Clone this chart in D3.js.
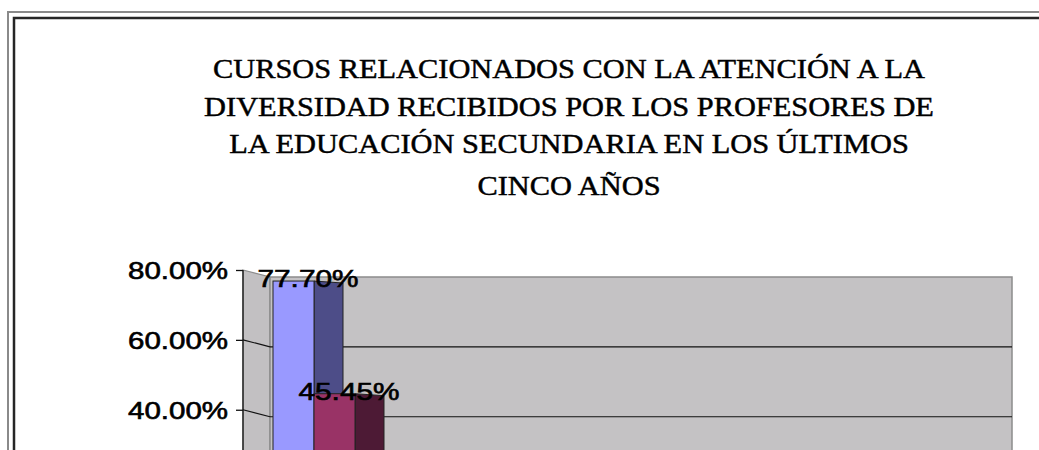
<!DOCTYPE html>
<html>
<head>
<meta charset="utf-8">
<script src="https://cdn.jsdelivr.net/npm/d3@7"></script>
<style>
    body { margin: 0; background: #fff; }
    svg { display: block; }
</style>
</head>
<body>
<div id="chart"></div>
<script>
/* 3D style column chart: cursos de atención a la diversidad */

// data
const titleLines = [
    "CURSOS RELACIONADOS CON LA ATENCIÓN A LA",
    "DIVERSIDAD RECIBIDOS POR LOS PROFESORES DE",
    "LA EDUCACIÓN SECUNDARIA EN LOS ÚLTIMOS",
    "CINCO AÑOS"
];
const series = ["Serie 1", "Serie 2"];
const values = [0.777, 0.4545];
const tickValues = [0.8, 0.6, 0.4]; // only these fall inside the picture

const colors = {
    front: ["#9999ff", "#993366"],
    side: ["#4d4d88", "#4d1a35"]
};

// page layout
const width = 1039,
    height = 450,
    axisX = 243,       // front y axis
    wallRight = 1012,  // right edge of back wall
    depth = { dx: 27, dy: 7 },     // depth offset of the back wall
    barDepth = { dx: 29, dy: 2 };  // depth of each column

let svg = d3.select("#chart")
    .append("svg")
    .attr("width", width)
    .attr("height", height)
    .attr("viewBox", [0, 0, width, height]);

// double frame round the chart, runs off the picture right and bottom
svg.append("path")
    .attr("d", `M8,${height + 10}V12H${width + 10}`)
    .attr("fill", "none")
    .attr("stroke", "#8a8a8a")
    .attr("stroke-width", 2);
svg.append("path")
    .attr("d", `M14,${height + 10}V18H${width + 10}`)
    .attr("fill", "none")
    .attr("stroke", "#262626")
    .attr("stroke-width", 2.5);

// title, stretched a bit as in the original
let title = svg.append("g")
    .attr("font-family", "'Liberation Serif', 'Times New Roman', serif")
    .attr("font-size", 27)
    .attr("text-anchor", "middle")
    .attr("fill", "#000")
    .attr("stroke", "#000")
    .attr("stroke-width", 0.45);

let tlines = title.selectAll("text")
    .data(titleLines)
    .join("text")
    .attr("x", 569)
    .attr("y", (d, i) => i < 3 ? 78 + i * 37.5 : 195)
    .text(d => d);

let stretch = 712 / tlines.node().getComputedTextLength();
tlines.each(function () {
    let w = this.getComputedTextLength();
    d3.select(this)
        .attr("textLength", w * stretch)
        .attr("lengthAdjust", "spacingAndGlyphs");
});

// y-scale on the front axis
let y = d3.scaleLinear()
    .domain([0, 0.8])
    .range([549.5, 270]);

// x-scale for the columns, side by side
let x = d3.scaleBand()
    .domain(series)
    .range([273, 273 + 41 * series.length])
    .padding(0);

// side wall (between axis and back wall)
let bottom = y(0) + depth.dy;
svg.append("path")
    .attr("d", `M${axisX},${y(0.8)}L${axisX + depth.dx},${y(0.8) + depth.dy}V${bottom}L${axisX},${y(0)}Z`)
    .attr("fill", "#c2c0c2")
    .attr("stroke", "#8c8c8c")
    .attr("stroke-width", 1.2);

// back wall
svg.append("rect")
    .attr("x", axisX + depth.dx)
    .attr("y", y(0.8) + depth.dy)
    .attr("width", wallRight - axisX - depth.dx)
    .attr("height", y(0) - y(0.8))
    .attr("fill", "#c4c2c4")
    .attr("stroke", "#8c8c8c")
    .attr("stroke-width", 1.5);

// gridlines on back wall and side wall
let grid = svg.append("g")
    .attr("stroke", "#111")
    .attr("stroke-width", 1.2)
    .attr("fill", "none");

let gridValues = tickValues.filter(d => d < 0.8);

grid.selectAll(".back")
    .data(gridValues)
    .join("line")
    .attr("x1", axisX + depth.dx)
    .attr("x2", wallRight)
    .attr("y1", d => y(d) + depth.dy)
    .attr("y2", d => y(d) + depth.dy);

grid.selectAll(".side")
    .data(gridValues)
    .join("line")
    .attr("x1", axisX)
    .attr("x2", axisX + depth.dx)
    .attr("y1", d => y(d))
    .attr("y2", d => y(d) + depth.dy);

// columns: front face plus the side face
let bar = svg.selectAll(".bar")
    .data(values.map((v, i) => ({ name: series[i], value: v, i: i })))
    .join("g")
    .attr("class", "bar");

const barShift = 3; // columns sit a little behind the front axis

bar.append("path")
    .attr("d", d => {
        let x0 = x(d.name) + x.bandwidth(),
            top = y(d.value) + barShift,
            base = y(0) + barShift;
        return `M${x0},${top}L${x0 + barDepth.dx},${top + barDepth.dy}V${base + barDepth.dy}L${x0},${base}Z`;
    })
    .attr("fill", d => colors.side[d.i])
    .attr("stroke", "#222")
    .attr("stroke-width", 1);

bar.append("rect")
    .attr("x", d => x(d.name))
    .attr("y", d => y(d.value) + barShift)
    .attr("width", x.bandwidth())
    .attr("height", d => y(0) - y(d.value))
    .attr("fill", d => colors.front[d.i])
    .attr("stroke", "#222")
    .attr("stroke-width", 1);

// y axis on the left
let yAxis = svg.append("g")
    .attr("transform", `translate(${axisX},0)`)
    .call(d3.axisLeft(y)
        .tickValues(tickValues)
        .tickFormat(d3.format(".2%"))
        .tickSize(7)
        .tickPadding(8));

yAxis.select(".domain")
    .attr("stroke", "#111")
    .attr("stroke-width", 1.3)
    .attr("d", `M0,${y(0.8)}V${height + 10}`);
yAxis.selectAll(".tick line").attr("stroke", "#111").attr("stroke-width", 1.3);
yAxis.selectAll(".tick text")
    .attr("font-family", "'Liberation Sans', Arial, sans-serif")
    .attr("font-size", 23.5)
    .attr("fill", "#000")
    .attr("stroke", "#000")
    .attr("stroke-width", 0.6)
    .attr("dy", "0.36em")
    .attr("textLength", 100)
    .attr("lengthAdjust", "spacingAndGlyphs");

// value labels, centred over column and side, drawn above all columns
svg.append("g")
    .selectAll("text")
    .data(values.map((v, i) => ({ name: series[i], value: v })))
    .join("text")
    .text(d => d3.format(".2%")(d.value))
    .attr("x", d => x(d.name) + (x.bandwidth() + barDepth.dx) / 2)
    .attr("y", d => y(d.value) + 9 + (d.value < 0.5 ? 3 : 0) * 0)
    .attr("text-anchor", "middle")
    .attr("font-family", "'Liberation Sans', Arial, sans-serif")
    .attr("font-size", 23)
    .attr("fill", "#000")
    .attr("stroke", "#000")
    .attr("stroke-width", 0.6)
    .attr("textLength", 101)
    .attr("lengthAdjust", "spacingAndGlyphs");
</script>
</body>
</html>
